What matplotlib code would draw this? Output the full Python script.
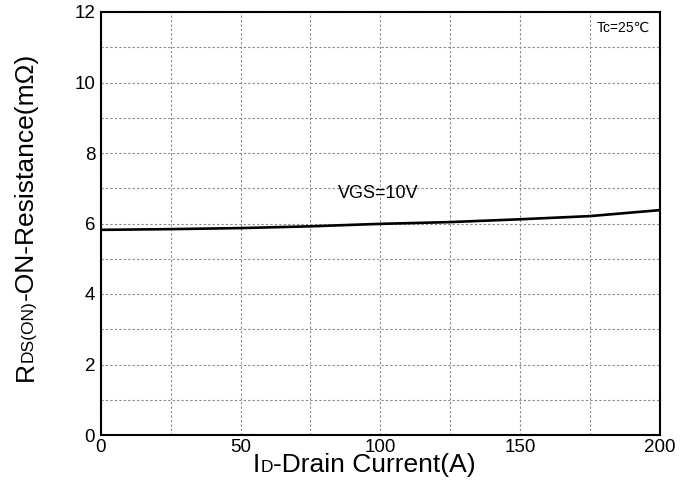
import numpy as np
import matplotlib
matplotlib.use('Agg')
import matplotlib.pyplot as plt

plt.rcParams['font.family'] = ['Liberation Sans', 'DejaVu Sans']

# datos
current = [0, 25, 50, 75, 100, 125, 150, 175, 200]
rdson = [5.82, 5.84, 5.87, 5.92, 5.99, 6.04, 6.12, 6.21, 6.38]
xticks = [0, 50, 100, 150, 200]
yticks = [0, 2, 4, 6, 8, 10, 12]

fig = plt.figure(figsize=(6.94, 4.8), dpi=100)
ax = fig.add_axes([100.7 / 694, 1 - 435 / 480, 559.3 / 694, 423 / 480])

ax.plot(current, rdson, color='black', lw=1.9)

ax.set_xlim(0, 200)
ax.set_ylim(0, 12)
ax.set_xticks(xticks)
ax.set_yticks(yticks)
ax.set_xticks(np.arange(0, 201, 25), minor=True)
ax.set_yticks(np.arange(0, 13, 1), minor=True)
ax.tick_params(which='both', length=0, labelsize=13.5)
ax.tick_params(axis='x', pad=3)
ax.tick_params(axis='y', pad=4)
ax.grid(True, which='both', color='#888888', linestyle=(0, (2, 2)), lw=0.8)
for s in ax.spines.values():
    s.set_linewidth(1.5)

ax.text(99.4, 6.84, 'VGS=10V', fontsize=13, ha='center', va='center')
ax.text(0.982, 0.963, 'Tc=25\u2103', fontsize=10, ha='right', va='center',
        transform=ax.transAxes)

fig.canvas.draw()
r = fig.canvas.get_renderer()

# etiqueta x con subindice
x0, yb = 253, 480 - 472
for txt, sz in [('I', 19), ('D', 12.5), ('-Drain Current(A)', 19)]:
    t = fig.text(x0 / 694, yb / 480, txt, fontsize=sz, ha='left', va='baseline')
    x0 += t.get_window_extent(r).width

# etiqueta y rotada
xb, y0 = 33, 480 - 381
for txt, sz in [('R', 19), ('DS(ON)', 12.5), ('-ON-Resistance(m\u03a9)', 19)]:
    t = fig.text(xb / 694, y0 / 480, txt, fontsize=sz, ha='left', va='baseline',
                 rotation=90, rotation_mode='anchor')
    y0 += t.get_window_extent(r).height

fig.savefig('out.png', dpi=100)
